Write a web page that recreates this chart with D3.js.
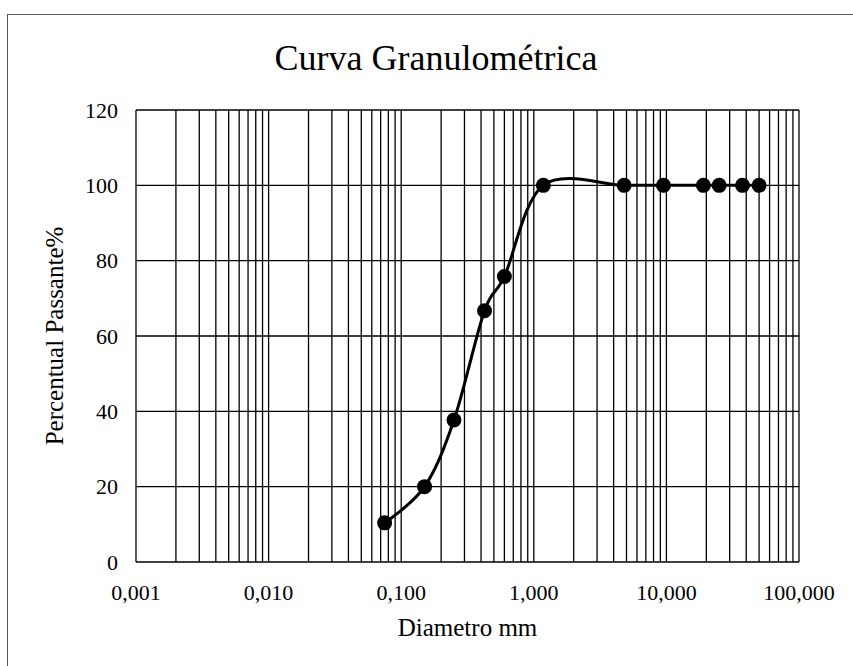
<!DOCTYPE html>
<html lang="pt">
<head>
<meta charset="utf-8"/>
<title>Curva Granulométrica</title>
<script src="https://d3js.org/d3.v7.min.js"></script>
<style>
  body { margin: 0; background: #fff; }
  text { font-family: "Liberation Serif", "Times New Roman", serif; fill: #000; }
  .grid line { stroke: #000; stroke-width: 1.3; }
</style>
</head>
<body>
<div id="chart"></div>
<script>
// sieve openings (mm) and % passing
var diametros = [0.075, 0.15, 0.25, 0.425, 0.6, 1.18, 4.8, 9.5, 19, 25, 37.5, 50];
var passante = [10.4, 20, 37.7, 66.7, 75.8, 100, 100, 100, 100, 100, 100, 100];
var xTicks = [0.001, 0.01, 0.1, 1, 10, 100];
var yTicks = [0, 20, 40, 60, 80, 100, 120];

var width = 853, height = 666;
var m = {top: 110, right: 54, bottom: 104, left: 136};

var svg = d3.select("#chart").append("svg")
  .attr("width", width)
  .attr("height", height);

// outer chart frame (only top/left fall inside the picture)
svg.append("rect")
  .attr("x", 7.5).attr("y", 14.5)
  .attr("width", 900).attr("height", 700)
  .attr("fill", "none")
  .attr("stroke", "#595959")
  .attr("stroke-width", 1);

var x = d3.scaleLog()
  .domain([0.001, 100])
  .range([m.left, width - m.right]);

var y = d3.scaleLinear()
  .domain([0, 120])
  .range([height - m.bottom, m.top]);

// minor + major vertical grid (1..9 per decade)
var vLines = [];
for (var e = -3; e < 2; e++) {
  for (var k = 1; k < 10; k++) vLines.push(k * Math.pow(10, e));
}
vLines.push(100);

var grid = svg.append("g").attr("class", "grid");
grid.selectAll(".v")
  .data(vLines)
  .enter().append("line")
    .attr("class", "v")
    .attr("x1", function(d) { return x(d); })
    .attr("x2", function(d) { return x(d); })
    .attr("y1", y(0))
    .attr("y2", y(120));

grid.selectAll(".h")
  .data(yTicks)
  .enter().append("line")
    .attr("class", "h")
    .attr("x1", x(0.001))
    .attr("x2", x(100))
    .attr("y1", function(d) { return y(d); })
    .attr("y2", function(d) { return y(d); });

// tick labels
var fmt = d3.format(".3f");
svg.append("g")
  .selectAll("text")
  .data(xTicks)
  .enter().append("text")
    .attr("x", function(d) { return x(d); })
    .attr("y", y(0) + 38)
    .attr("text-anchor", "middle")
    .attr("font-size", 22)
    .text(function(d) { return fmt(d).replace(".", ","); });

svg.append("g")
  .selectAll("text")
  .data(yTicks)
  .enter().append("text")
    .attr("x", m.left - 18)
    .attr("y", function(d) { return y(d); })
    .attr("dy", "0.35em")
    .attr("text-anchor", "end")
    .attr("font-size", 22)
    .text(function(d) { return d; });

// curve (Excel-like smoothed line)
var pts = diametros.map(function(d, i) { return [d, passante[i]]; });

var line = d3.line()
  .x(function(d) { return x(d[0]); })
  .y(function(d) { return y(d[1]); })
  .curve(d3.curveCardinal.tension(0));

svg.append("path")
  .datum(pts)
  .attr("fill", "none")
  .attr("stroke", "#000")
  .attr("stroke-width", 3)
  .attr("d", line);

svg.append("g")
  .selectAll("circle")
  .data(pts)
  .enter().append("circle")
    .attr("cx", function(d) { return x(d[0]); })
    .attr("cy", function(d) { return y(d[1]); })
    .attr("r", 7.5)
    .attr("fill", "#000");

// titles
svg.append("text")
  .attr("x", 436)
  .attr("y", 70)
  .attr("text-anchor", "middle")
  .attr("font-size", 36)
  .text("Curva Granulométrica");

svg.append("text")
  .attr("x", (x(0.001) + x(100)) / 2)
  .attr("y", 636)
  .attr("text-anchor", "middle")
  .attr("font-size", 25)
  .text("Diametro mm");

svg.append("text")
  .attr("transform", "translate(63," + ((y(0) + y(120)) / 2) + ") rotate(-90)")
  .attr("text-anchor", "middle")
  .attr("font-size", 25)
  .text("Percentual Passante%");
</script>
</body>
</html>
